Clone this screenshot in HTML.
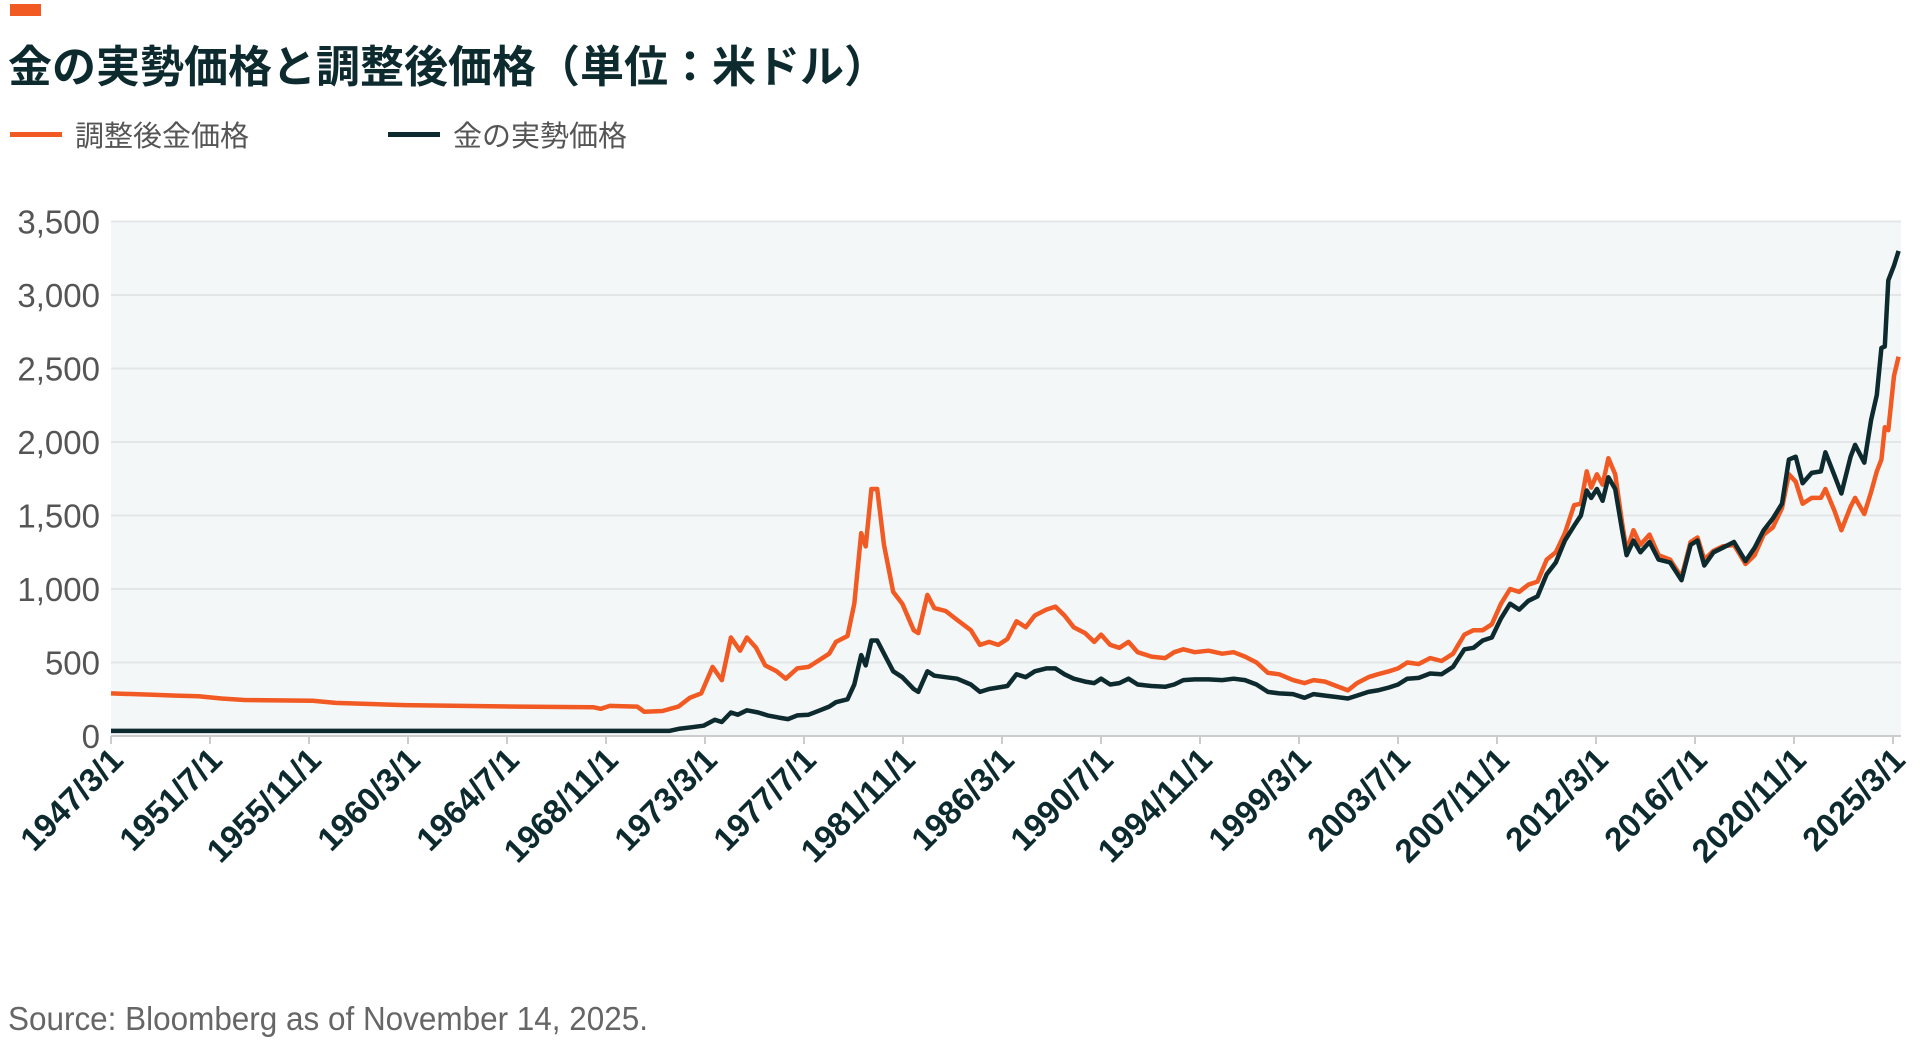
<!DOCTYPE html>
<html><head><meta charset="utf-8"><style>
body{margin:0;background:#fff;width:1920px;height:1041px;overflow:hidden;font-family:"Liberation Sans","Noto Sans CJK JP",sans-serif;}
</style></head><body>
<svg id="s" width="1920" height="1041" xmlns="http://www.w3.org/2000/svg" style="position:absolute;left:0;top:0">
<rect x="10" y="4" width="31" height="12" fill="#f15a22"/>
<text x="8" y="82" font-size="44" font-weight="bold" fill="#0d2b2e" font-family="'Liberation Sans','Noto Sans CJK JP',sans-serif">金の実勢価格と調整後価格（単位：米ドル）</text>
<rect x="10" y="132" width="52" height="5" fill="#f15a22"/>
<text x="75" y="146" font-size="29" fill="#555" font-family="'Liberation Sans','Noto Sans CJK JP',sans-serif">調整後金価格</text>
<rect x="388" y="132" width="52" height="5" fill="#0d2b2e"/>
<text x="453" y="146" font-size="29" fill="#555" font-family="'Liberation Sans','Noto Sans CJK JP',sans-serif">金の実勢価格</text>
<rect x="111" y="221" width="1790" height="515" fill="#f4f7f8"/>
<g id="grid"></g>
<g id="lines"></g>
<text x="8" y="1030" font-size="33" fill="#666" font-family="'Liberation Sans Narrow','Liberation Sans',sans-serif" textLength="640" lengthAdjust="spacingAndGlyphs">Source: Bloomberg as of November 14, 2025.</text>
</svg>
<script>
const NS="http://www.w3.org/2000/svg";
const s=document.getElementById('s'),g=document.getElementById('grid'),L=document.getElementById('lines');
function el(t,a,p,txt){const e=document.createElementNS(NS,t);for(const k in a)e.setAttribute(k,a[k]);if(txt)e.textContent=txt;(p||g).appendChild(e);return e;}
const Y=v=>736-v*0.147, X=y=>Math.min(1899,111+(y-1947.17)*22.85);
for(let i=0;i<=7;i++){const y=Y(i*500);
 el('line',{x1:111,x2:1901,y1:y,y2:y,stroke:i==0?'#ccc':'#e3e6e8','stroke-width':2});
 el('text',{x:100,y:y+12,'text-anchor':'end','font-size':33,fill:'#555','font-family':"'Liberation Sans Narrow','Liberation Sans',sans-serif"},g,(i*500).toLocaleString('en-US'));}
const labs=["1947/3/1","1951/7/1","1955/11/1","1960/3/1","1964/7/1","1968/11/1","1973/3/1","1977/7/1","1981/11/1","1986/3/1","1990/7/1","1994/11/1","1999/3/1","2003/7/1","2007/11/1","2012/3/1","2016/7/1","2020/11/1","2025/3/1"];
labs.forEach((t,i)=>{const x=111+i*99;
 el('line',{x1:x,x2:x,y1:736,y2:744,stroke:'#ccc','stroke-width':2});
 el('text',{x:x+14,y:762,'text-anchor':'end','font-size':33,'font-weight':'bold',fill:'#0d2b2e',transform:`rotate(-45 ${x+14} 762)`},g,t);});
const adj=[[1947.17,290],[1949,280],[1950,275],[1951,270],[1952,255],[1953,245],[1956,240],[1957,225],[1960,210],[1965,200],[1968.3,195],[1968.6,185],[1969,205],[1970.2,200],[1970.5,165],[1971.3,170],[1972,200],[1972.5,260],[1973,290],[1973.5,470],[1973.9,380],[1974.3,670],[1974.7,580],[1975,670],[1975.4,600],[1975.8,480],[1976.3,440],[1976.7,390],[1977.2,460],[1977.7,470],[1978.2,520],[1978.6,560],[1978.9,640],[1979.4,680],[1979.7,900],[1980.0,1380],[1980.2,1290],[1980.45,1680],[1980.7,1680],[1981.0,1300],[1981.4,980],[1981.8,900],[1982.3,720],[1982.5,700],[1982.9,960],[1983.2,870],[1983.7,850],[1984.2,790],[1984.8,720],[1985.2,620],[1985.6,640],[1986,620],[1986.4,660],[1986.8,780],[1987.2,740],[1987.6,820],[1988.1,860],[1988.5,880],[1988.9,820],[1989.3,740],[1989.8,700],[1990.2,640],[1990.5,690],[1990.9,620],[1991.3,600],[1991.7,640],[1992.1,570],[1992.7,540],[1993.3,530],[1993.7,570],[1994.1,590],[1994.6,570],[1995.2,580],[1995.8,560],[1996.3,570],[1996.8,540],[1997.3,500],[1997.8,430],[1998.3,420],[1998.9,380],[1999.4,360],[1999.8,380],[2000.3,370],[2000.8,340],[2001.3,310],[2001.7,360],[2002.2,400],[2002.6,420],[2003.1,440],[2003.5,460],[2003.9,500],[2004.4,490],[2004.9,530],[2005.4,510],[2005.9,560],[2006.4,690],[2006.8,720],[2007.2,720],[2007.6,760],[2008.0,900],[2008.4,1000],[2008.8,980],[2009.2,1030],[2009.6,1050],[2010.0,1200],[2010.4,1250],[2010.8,1380],[2011.2,1570],[2011.5,1580],[2011.75,1800],[2011.95,1690],[2012.2,1780],[2012.45,1710],[2012.7,1890],[2013.0,1780],[2013.3,1450],[2013.5,1260],[2013.8,1400],[2014.1,1300],[2014.5,1370],[2014.9,1230],[2015.4,1200],[2015.9,1080],[2016.3,1320],[2016.6,1350],[2016.9,1200],[2017.3,1260],[2017.7,1290],[2018.2,1300],[2018.7,1170],[2019.1,1230],[2019.5,1370],[2019.9,1420],[2020.3,1550],[2020.6,1780],[2020.9,1730],[2021.2,1580],[2021.6,1620],[2022.0,1620],[2022.2,1680],[2022.6,1530],[2022.9,1400],[2023.3,1560],[2023.5,1620],[2023.9,1510],[2024.2,1660],[2024.45,1800],[2024.65,1880],[2024.8,2100],[2024.95,2080],[2025.2,2450],[2025.4,2580]];
const nom=[[1947.17,35],[1971.6,35],[1972,48],[1972.6,60],[1973.1,70],[1973.6,110],[1973.9,95],[1974.3,160],[1974.6,145],[1975,175],[1975.5,160],[1975.9,140],[1976.4,125],[1976.8,115],[1977.2,140],[1977.7,145],[1978.2,175],[1978.6,200],[1978.9,230],[1979.4,250],[1979.7,350],[1980.0,550],[1980.2,480],[1980.45,650],[1980.7,650],[1981.0,560],[1981.4,440],[1981.8,400],[1982.3,320],[1982.5,300],[1982.9,440],[1983.2,410],[1983.7,400],[1984.2,390],[1984.8,350],[1985.2,300],[1985.6,320],[1986,330],[1986.4,340],[1986.8,420],[1987.2,400],[1987.6,440],[1988.1,460],[1988.5,460],[1988.9,420],[1989.3,390],[1989.8,370],[1990.2,360],[1990.5,390],[1990.9,350],[1991.3,360],[1991.7,390],[1992.1,350],[1992.7,340],[1993.3,335],[1993.7,350],[1994.1,380],[1994.6,385],[1995.2,385],[1995.8,380],[1996.3,390],[1996.8,380],[1997.3,350],[1997.8,300],[1998.3,290],[1998.9,285],[1999.4,260],[1999.8,285],[2000.3,275],[2000.8,265],[2001.3,255],[2001.7,275],[2002.2,300],[2002.6,310],[2003.1,330],[2003.5,350],[2003.9,390],[2004.4,395],[2004.9,425],[2005.4,420],[2005.9,470],[2006.4,590],[2006.8,600],[2007.2,650],[2007.6,670],[2008.0,800],[2008.4,900],[2008.8,860],[2009.2,920],[2009.6,950],[2010.0,1100],[2010.4,1180],[2010.8,1330],[2011.2,1430],[2011.5,1500],[2011.75,1670],[2011.95,1620],[2012.2,1680],[2012.45,1600],[2012.7,1760],[2013.0,1680],[2013.3,1400],[2013.5,1230],[2013.8,1330],[2014.1,1250],[2014.5,1320],[2014.9,1200],[2015.4,1180],[2015.9,1060],[2016.3,1300],[2016.6,1330],[2016.9,1160],[2017.3,1250],[2017.7,1280],[2018.2,1320],[2018.7,1190],[2019.1,1280],[2019.5,1400],[2019.9,1480],[2020.3,1580],[2020.6,1880],[2020.9,1900],[2021.2,1720],[2021.6,1790],[2022.0,1800],[2022.2,1930],[2022.6,1770],[2022.9,1650],[2023.3,1900],[2023.5,1980],[2023.9,1860],[2024.2,2150],[2024.45,2320],[2024.65,2640],[2024.8,2650],[2024.95,3100],[2025.2,3200],[2025.4,3300]];
function pl(d,c){el('polyline',{points:d.map(p=>X(p[0]).toFixed(1)+','+Y(p[1]).toFixed(1)).join(' '),fill:'none',stroke:c,'stroke-width':4.5,'stroke-linejoin':'round'},L);}
pl(adj,'#f15a22');pl(nom,'#0d2b2e');
</script>
</body></html>
